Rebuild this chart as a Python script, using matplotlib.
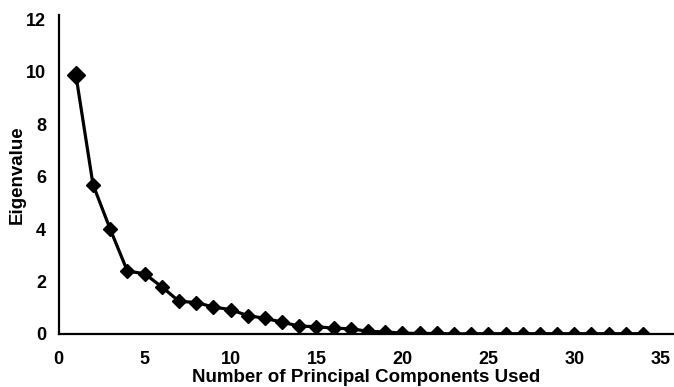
import matplotlib
matplotlib.use("Agg")
from matplotlib import pyplot as plt
import numpy as np

# eigenvalue of each principal component
components = list(range(1, 35))
eigenvalues = [9.9, 5.7, 4.0, 2.4, 2.3, 1.8, 1.25, 1.2, 1.03, 0.93,
               0.7, 0.6, 0.45, 0.3, 0.28, 0.22, 0.2, 0.1, 0.08, 0.03,
               0.02, 0.02, 0.0, 0.01, 0.01, 0.01, 0.01, 0.01, 0.01, 0.01,
               0.01, 0.01, 0.01, 0.01]
xticks = [0, 5, 10, 15, 20, 25, 30, 35]
yticks = [0, 2, 4, 6, 8, 10, 12]

plt.rcParams["font.family"] = ["Liberation Sans", "DejaVu Sans"]
plt.rcParams["font.weight"] = "bold"

fig = plt.figure(figsize=(6.74, 3.87), dpi=100)
ax = fig.add_axes([0.087, 0.137, 0.913, 0.824])

ax.plot(components, eigenvalues, color="black", linewidth=2.3,
        marker="D", markersize=7)
ax.plot(components[:1], eigenvalues[:1], color="black", marker="D",
        markersize=9.5, linestyle="none")

ax.set_xlim(0, 35.8)
ax.set_ylim(0, 12.17)
ax.set_xticks(xticks)
ax.set_yticks(yticks)
ax.tick_params(axis="x", length=0, labelsize=13, pad=12)
ax.tick_params(axis="y", length=0, labelsize=13, pad=9)
for lbl in ax.get_xticklabels() + ax.get_yticklabels():
    lbl.set_fontweight("bold")

for side in ["top", "right"]:
    ax.spines[side].set_visible(False)
for side in ["left", "bottom"]:
    ax.spines[side].set_linewidth(1.6)

ax.set_xlabel("Number of Principal Components Used", fontsize=13.5,
              fontweight="bold", labelpad=1)
ax.set_ylabel("Eigenvalue", fontsize=13.5, fontweight="bold", labelpad=0)

fig.savefig("out.png", dpi=100)
